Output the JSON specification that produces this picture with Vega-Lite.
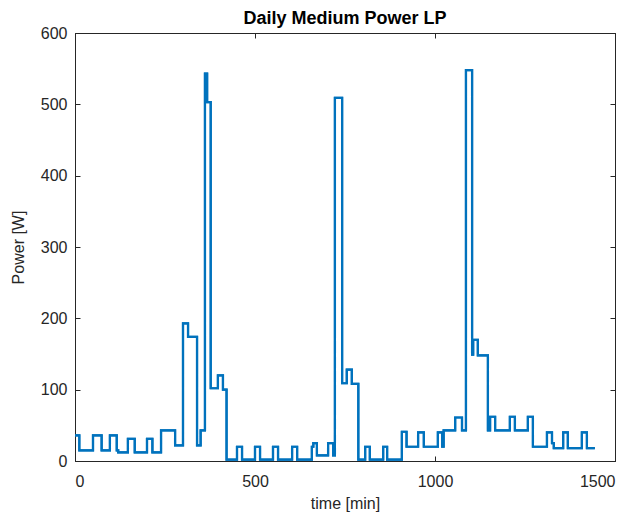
{
  "$schema": "https://vega.github.io/schema/vega-lite/v6.json",
  "width": 540,
  "height": 428,
  "autosize": "none",
  "padding": {"left": 75, "top": 33, "right": 24, "bottom": 58},
  "background": "white",
  "title": {"text": "Daily Medium Power LP", "font": "Liberation Sans", "fontSize": 18, "fontWeight": "bold", "color": "#000000", "offset": -3},
  "config": {
    "view": {"stroke": "#262626", "strokeWidth": 1},
    "axis": {"grid": false, "domainColor": "#262626", "tickColor": "#262626", "labelColor": "#262626", "titleColor": "#262626", "labelFont": "Liberation Sans", "titleFont": "Liberation Sans", "labelFontSize": 16, "titleFontSize": 16, "titleFontWeight": "normal", "tickSize": -5}
  },
  "data": {"values": [
    {"t": 0, "p": 36}, {"t": 12, "p": 15}, {"t": 50, "p": 36}, {"t": 74, "p": 15}, {"t": 97, "p": 36}, {"t": 116, "p": 15}, {"t": 120, "p": 12},
    {"t": 147, "p": 31}, {"t": 166, "p": 12}, {"t": 200, "p": 31}, {"t": 215, "p": 12}, {"t": 239, "p": 43}, {"t": 278, "p": 22},
    {"t": 300, "p": 193}, {"t": 314, "p": 174}, {"t": 339, "p": 22}, {"t": 349, "p": 43}, {"t": 361, "p": 543}, {"t": 367, "p": 503},
    {"t": 377, "p": 102}, {"t": 397, "p": 120}, {"t": 411, "p": 100}, {"t": 421, "p": 2},
    {"t": 450, "p": 20}, {"t": 464, "p": 2}, {"t": 500, "p": 20}, {"t": 514, "p": 2}, {"t": 550, "p": 20}, {"t": 564, "p": 2},
    {"t": 603, "p": 20}, {"t": 617, "p": 2}, {"t": 658, "p": 20}, {"t": 662, "p": 25}, {"t": 672, "p": 8}, {"t": 703, "p": 25}, {"t": 717, "p": 8},
    {"t": 722, "p": 509}, {"t": 742, "p": 109}, {"t": 755, "p": 128}, {"t": 769, "p": 108}, {"t": 787, "p": 2},
    {"t": 806, "p": 20}, {"t": 819, "p": 2}, {"t": 856, "p": 20}, {"t": 867, "p": 2}, {"t": 908, "p": 41}, {"t": 921, "p": 20},
    {"t": 953, "p": 40}, {"t": 969, "p": 20}, {"t": 1008, "p": 40}, {"t": 1020, "p": 20}, {"t": 1024, "p": 43},
    {"t": 1056, "p": 61}, {"t": 1075, "p": 43}, {"t": 1086, "p": 548}, {"t": 1103, "p": 149}, {"t": 1106, "p": 170}, {"t": 1119, "p": 148},
    {"t": 1147, "p": 43}, {"t": 1153, "p": 62}, {"t": 1167, "p": 43}, {"t": 1208, "p": 62}, {"t": 1222, "p": 43}, {"t": 1258, "p": 62},
    {"t": 1272, "p": 20}, {"t": 1311, "p": 40}, {"t": 1325, "p": 25}, {"t": 1330, "p": 18}, {"t": 1356, "p": 40}, {"t": 1369, "p": 18},
    {"t": 1408, "p": 40}, {"t": 1422, "p": 18}, {"t": 1444, "p": 18}
  ]},
  "layer": [
    {
      "mark": {"type": "line", "interpolate": "step-after", "color": "#0072BD", "strokeWidth": 2.2},
      "encoding": {
        "x": {"field": "t", "type": "quantitative", "scale": {"domain": [0, 1500], "nice": false}, "axis": {"title": "time [min]", "values": [0, 500, 1000, 1500], "format": "d", "labelPadding": 17, "titlePadding": 6}},
        "y": {"field": "p", "type": "quantitative", "scale": {"domain": [0, 600], "nice": false}, "axis": {"title": "Power [W]", "values": [0, 100, 200, 300, 400, 500, 600], "format": "d", "labelPadding": 13, "titlePadding": 14}}
      }
    },
    {
      "mark": {"type": "line", "interpolate": "step-after", "color": "#0072BD", "strokeWidth": 2.2},
      "encoding": {
        "x": {"field": "t", "type": "quantitative", "scale": {"domain": [0, 1500], "nice": false}, "axis": {"orient": "top", "title": null, "labels": false, "values": [0, 500, 1000, 1500]}},
        "y": {"field": "p", "type": "quantitative", "scale": {"domain": [0, 600], "nice": false}, "axis": {"orient": "right", "title": null, "labels": false, "values": [0, 100, 200, 300, 400, 500, 600]}}
      }
    }
  ],
  "resolve": {"axis": {"x": "independent", "y": "independent"}}
}
